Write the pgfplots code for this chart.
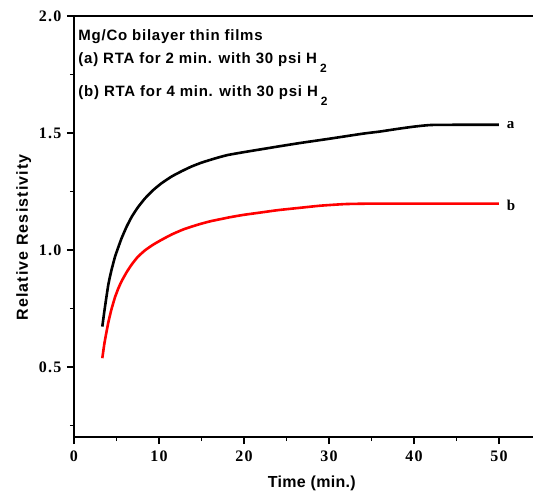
\documentclass[border=0pt]{standalone}
\usepackage{fontspec}
\setmainfont{Liberation Serif}[LetterSpace=8]
\newfontfamily\annfont{Liberation Sans}[LetterSpace=5]
\newfontfamily\ylabfont{Liberation Sans}[LetterSpace=7]
\newfontfamily\xlabfont{Liberation Sans}[LetterSpace=2]
\usepackage{pgfplots}
\pgfplotsset{compat=1.18}
\usetikzlibrary{calc}

\pgfplotstableread{
x y
3.33 0.672
3.6 0.745
4.04 0.852
4.4 0.912
4.82 0.97
5.2 1.01
5.6 1.05
6.2 1.1
6.8 1.142
7.5 1.181
8.35 1.22
9.3 1.255
10.3 1.285
11.5 1.314
12.7 1.337
13.8 1.356
15 1.373
16.5 1.39
18 1.405
20 1.418
22 1.43
24 1.442
26.6 1.457
30 1.475
34 1.497
36 1.506
38 1.517
40 1.527
42 1.534
46 1.535
50 1.535
}\curvea

\pgfplotstableread{
x y
3.33 0.537
3.6 0.605
4.04 0.69
4.4 0.745
4.82 0.797
5.2 0.834
5.6 0.866
6.2 0.905
6.8 0.938
7.5 0.97
8.35 0.998
9.3 1.022
10.3 1.043
11.5 1.066
12.9 1.088
14.5 1.107
16 1.122
18.4 1.14
20 1.15
22 1.16
24 1.17
26.6 1.18
29 1.189
32 1.196
36 1.198
50 1.198
}\curveb

\newcommand{\subtwo}{\hspace{3bp}\raisebox{-9bp}{\fontsize{12bp}{13bp}\selectfont 2}}

\begin{document}
\begin{tikzpicture}
\begin{axis}[
  scale only axis, width=460bp, height=421bp,
  xmin=0, xmax=54.12, ymin=0.2, ymax=2.0,
  axis line style={line width=1.6bp},
  xtick={0,10,...,50}, minor xtick={5,15,...,45},
  ytick={0.5,1,1.5,2}, minor ytick={0.25,0.75,1.25,1.75},
  tick align=outside, tick pos=left,
  major tick length=7bp, minor tick length=4bp,
  every tick/.style={black, line width=1.4bp},
  /pgf/number format/assume math mode=true,
  ticklabel style={font=\fontsize{16bp}{18bp}\selectfont\bfseries},
  yticklabel style={xshift=-2bp, /pgf/number format/fixed, /pgf/number format/fixed zerofill, /pgf/number format/precision=1},
  xticklabel style={yshift=-3bp},
  xlabel={Time (min.)},
  xlabel style={font=\fontsize{16bp}{19bp}\xlabfont\bfseries, at={(axis description cs:0.517,0)}, anchor=base, yshift=-50bp},
  ylabel={Relative Resistivity},
  ylabel style={font=\fontsize{16bp}{19bp}\ylabfont\bfseries, at={(axis description cs:0,0.474)}, anchor=base, yshift=46bp},
  clip=false,
]
\addplot[black, line width=2.6bp, smooth, tension=0.3] table[x=x,y=y] {\curvea};
\addplot[red, line width=2.6bp, smooth, tension=0.3] table[x=x,y=y] {\curveb};
\node[anchor=west, inner sep=0, font=\fontsize{15bp}{18bp}\selectfont\bfseries] at (axis cs:50.9,1.534) {a};
\node[anchor=west, inner sep=0, font=\fontsize{15bp}{18bp}\selectfont\bfseries] at (axis cs:50.9,1.192) {b};
\node[anchor=base west, inner sep=0, font=\fontsize{15bp}{18bp}\annfont\bfseries] at (axis cs:0.5,1.894) {Mg/Co bilayer thin films};
\node[anchor=base west, inner sep=0, font=\fontsize{15bp}{18bp}\annfont\bfseries] at (axis cs:0.5,1.797) {(a) RTA for 2 min. with 30 psi H\subtwo};
\node[anchor=base west, inner sep=0, font=\fontsize{15bp}{18bp}\annfont\bfseries] at (axis cs:0.5,1.655) {(b) RTA for 4 min. with 30 psi H\subtwo};
\end{axis}
\pgfresetboundingbox
\path[use as bounding box] ($(current axis.south west)+(-74bp,-57bp)$) rectangle ($(current axis.north west)+(459bp,16bp)$);
\end{tikzpicture}
\end{document}
